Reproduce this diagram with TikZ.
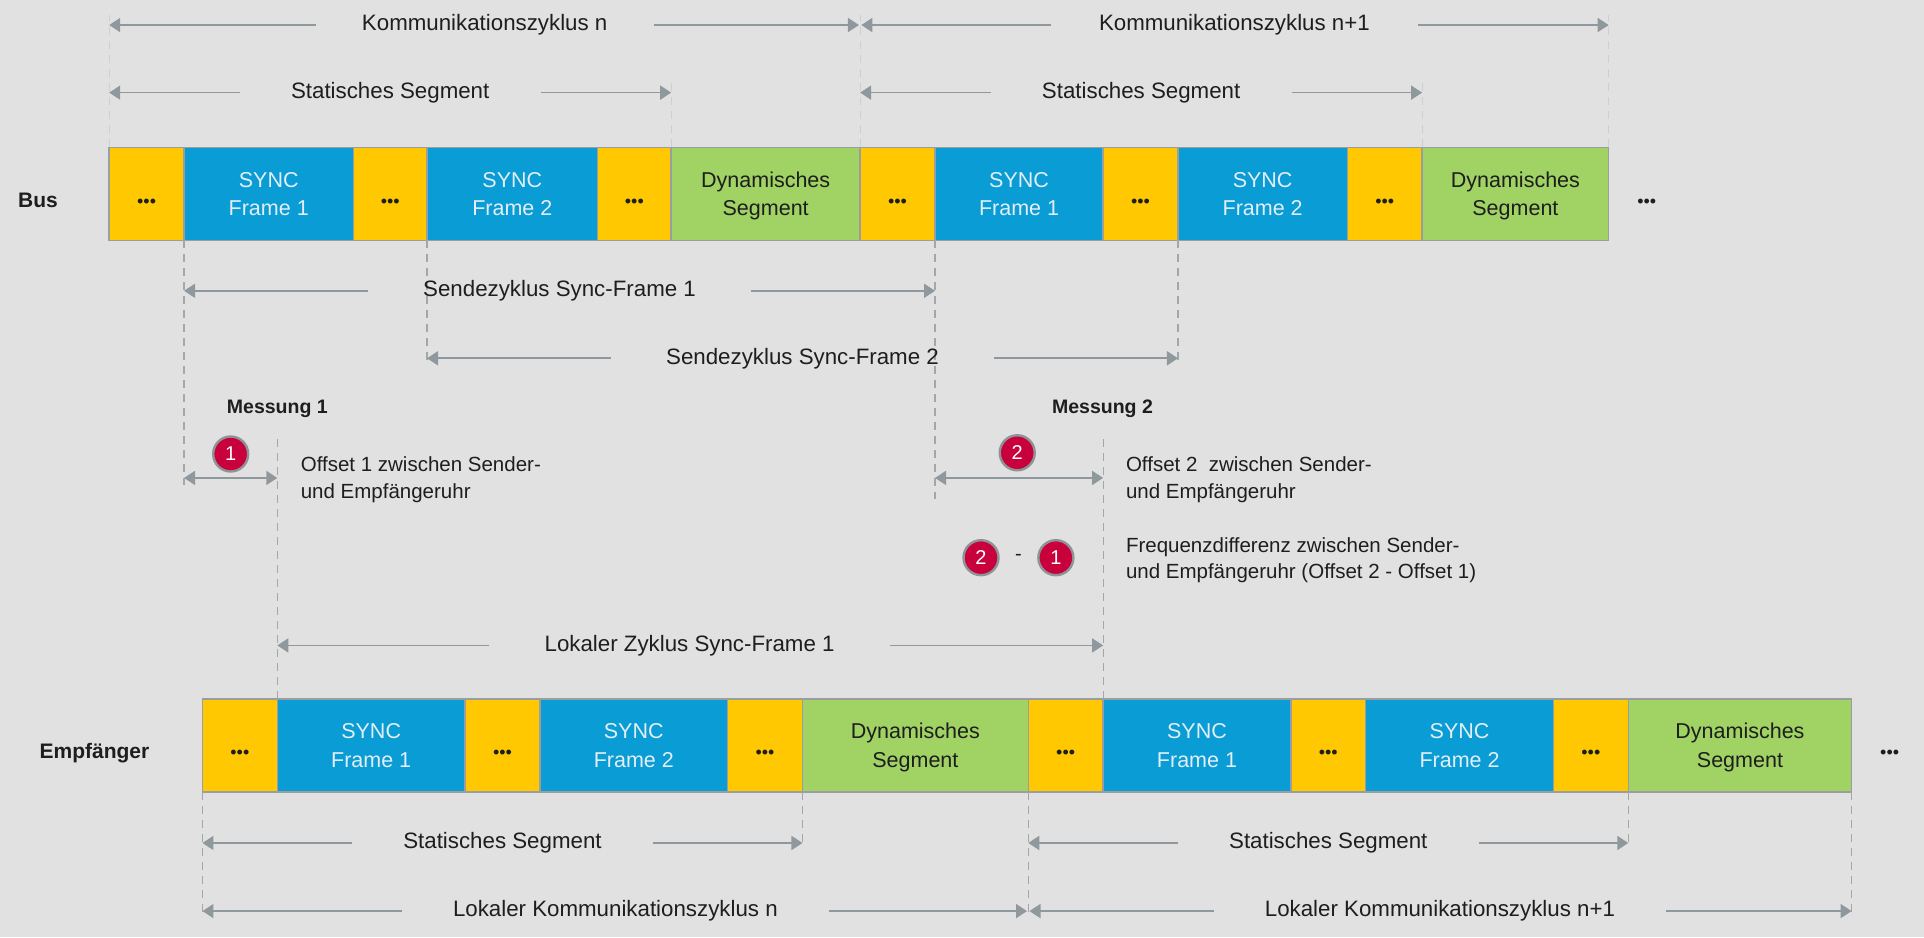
\documentclass[tikz,border=0pt]{standalone}
\usepackage{fontspec}
\setmainfont{Liberation Sans}
\usetikzlibrary{arrows.meta}
\definecolor{bgc}{HTML}{E1E1E1}
\definecolor{fyellow}{HTML}{FFC800}
\definecolor{fblue}{HTML}{0A9CD4}
\definecolor{fgreen}{HTML}{A0D264}
\definecolor{fborder}{HTML}{9A9EA1}
\definecolor{arrowgray}{HTML}{8F989C}
\definecolor{dashgray}{HTML}{A3A7A9}
\definecolor{faintgray}{HTML}{CDCFD0}
\definecolor{txt}{HTML}{1E1E1E}
\definecolor{bluetxt}{HTML}{E3EEF6}
\definecolor{badgered}{HTML}{C8003C}
\definecolor{badgeborder}{HTML}{8E9396}
\newcommand\seg[6]{%
  \node[segbox,#5,minimum width={(#3-#2)*1.22704pt}] (#1) at ({(#2+#3)/2},#4) {#6};}
\tikzset{
  segbox/.style={draw=fborder, line width=1.5pt, inner sep=0pt, outer sep=0pt,
    minimum height=93pt, align=center, font=\fontsize{21.5}{28.5}\selectfont},
  dotbox/.style={fill=fyellow, text=txt, font=\fontsize{18}{20}\selectfont},
  syncbox/.style={fill=fblue, text=bluetxt},
  dynbox/.style={fill=fgreen, text=txt},
  dimlabel/.style={font=\fontsize{22.3}{26}\selectfont, text=txt, inner xsep=51pt, inner ysep=2pt},
  dimarrow/.style={draw=arrowgray, line width=1.7pt, -{Triangle[length=11pt,width=14pt]}},
  dimboth/.style={draw=arrowgray, line width=1.7pt, {Triangle[length=11pt,width=14pt]}-{Triangle[length=11pt,width=14pt]}},
  extline/.style={draw=dashgray, line width=1.2pt, dash pattern=on 8pt off 6pt},
  faintline/.style={draw=faintgray, line width=1.2pt, dash pattern=on 8pt off 6pt},
  rowlabel/.style={font=\fontsize{21}{25}\selectfont\bfseries, text=txt, anchor=base},
  measlabel/.style={font=\fontsize{19.5}{23}\selectfont\bfseries, text=txt},
  note/.style={font=\fontsize{20.5}{26.4}\selectfont, text=txt, align=left, anchor=west, inner sep=0pt},
  badge/.style={circle, fill=badgered, draw=badgeborder, line width=2.4pt, minimum size=35pt,
    inner sep=0pt, text=white, font=\fontsize{20}{20}\selectfont},
  moredots/.style={font=\fontsize{18}{20}\selectfont, text=txt, inner sep=0pt}
}
\newcommand\dd{\raisebox{-13.5pt}[0pt][0pt]{\char"2022\char"2022\char"2022}}
\newcommand\nodepth[1]{\raisebox{0pt}[\height][0pt]{#1}}
\begin{document}
\begin{tikzpicture}[x=1.22704pt,y=-1.22704pt]
\fill[bgc] (0,0) rectangle (1568,764);
\useasboundingbox (0,0) rectangle (1568,764);

% ---------- Bus row ----------
\node[rowlabel] (buslbl) at (31,169) {Bus};
\seg{b1}{89}{150}{158}{dotbox}{\dd}
\seg{b2}{150}{288}{158}{syncbox}{SYNC\\Frame 1}
\seg{b3}{288}{348}{158}{dotbox}{\dd}
\seg{b4}{348}{487}{158}{syncbox}{SYNC\\Frame 2}
\seg{b5}{487}{547}{158}{dotbox}{\dd}
\seg{b6}{547}{701}{158}{dynbox}{Dynamisches\\\nodepth{Segment}}
\seg{b7}{701}{762}{158}{dotbox}{\dd}
\seg{b8}{762}{899}{158}{syncbox}{SYNC\\Frame 1}
\seg{b9}{899}{960}{158}{dotbox}{\dd}
\seg{b10}{960}{1098}{158}{syncbox}{SYNC\\Frame 2}
\seg{b11}{1098}{1159}{158}{dotbox}{\dd}
\seg{b12}{1159}{1311}{158}{dynbox}{Dynamisches\\\nodepth{Segment}}
\node[moredots] (busmore) at (1342,158) {\dd};

% ---------- Empfaenger row ----------
\node[rowlabel] (emplbl) at (77,618) {Empfänger};
\seg{e1}{165}{226}{607.5}{dotbox}{\dd}
\seg{e2}{226}{379}{607.5}{syncbox}{SYNC\\Frame 1}
\seg{e3}{379}{440}{607.5}{dotbox}{\dd}
\seg{e4}{440}{593}{607.5}{syncbox}{SYNC\\Frame 2}
\seg{e5}{593}{654}{607.5}{dotbox}{\dd}
\seg{e6}{654}{838}{607.5}{dynbox}{Dynamisches\\\nodepth{Segment}}
\seg{e7}{838}{899}{607.5}{dotbox}{\dd}
\seg{e8}{899}{1052}{607.5}{syncbox}{SYNC\\Frame 1}
\seg{e9}{1052}{1113}{607.5}{dotbox}{\dd}
\seg{e10}{1113}{1266}{607.5}{syncbox}{SYNC\\Frame 2}
\seg{e11}{1266}{1327}{607.5}{dotbox}{\dd}
\seg{e12}{1327}{1509}{607.5}{dynbox}{Dynamisches\\\nodepth{Segment}}
\node[moredots] (empmore) at (1540,607.5) {\dd};

% ---------- extension lines ----------
\coordinate (t1) at (89,12);   \draw[faintline] (b1.north west) -- (t1);
\coordinate (t2) at (547,66);  \draw[faintline] (b6.north west) -- (t2);
\coordinate (t3) at (701,12);  \draw[faintline] (b7.north west) -- (t3);
\coordinate (t4) at (1159,66); \draw[faintline] (b12.north west) -- (t4);
\coordinate (t5) at (1311,12); \draw[faintline] (b12.north east) -- (t5);

\coordinate (u1) at (150,395); \draw[extline] (b2.south west) -- (u1);
\coordinate (u2) at (348,296); \draw[extline] (b4.south west) -- (u2);
\coordinate (u3) at (762,407); \draw[extline] (b8.south west) -- (u3);
\coordinate (u4) at (960,296); \draw[extline] (b10.south west) -- (u4);

\coordinate (m1top) at (226,358); \draw[extline] (m1top) -- (e2.north west);
\coordinate (m2top) at (899,358); \draw[extline] (m2top) -- (e8.north west);

\coordinate (d1) at (165,748);  \draw[extline] (e1.south west) -- (d1);
\coordinate (d2) at (654,690);  \draw[extline] (e6.south west) -- (d2);
\coordinate (d3) at (838,748);  \draw[extline] (e7.south west) -- (d3);
\coordinate (d4) at (1327,690); \draw[extline] (e12.south west) -- (d4);
\coordinate (d5) at (1509,748); \draw[extline] (e12.south east) -- (d5);

% ---------- dimension arrows, top ----------
\node[dimlabel, inner xsep=46pt] (k1) at (395,20.4) {Kommunikationszyklus n};
\coordinate (k1a) at (89,20.4); \coordinate (k1b) at (700,20.4);
\draw[dimarrow] (k1) -- (k1a); \draw[dimarrow] (k1) -- (k1b);

\node[dimlabel, inner xsep=48pt] (k2) at (1006,20.4) {Kommunikationszyklus n+1};
\coordinate (k2a) at (702,20.4); \coordinate (k2b) at (1311,20.4);
\draw[dimarrow] (k2) -- (k2a); \draw[dimarrow] (k2) -- (k2b);

\node[dimlabel] (s1) at (318,75.5) {Statisches Segment};
\coordinate (s1a) at (89,75.5); \coordinate (s1b) at (547,75.5);
\draw[dimarrow] (s1) -- (s1a); \draw[dimarrow] (s1) -- (s1b);

\node[dimlabel] (s2) at (930,75.5) {Statisches Segment};
\coordinate (s2a) at (701,75.5); \coordinate (s2b) at (1159,75.5);
\draw[dimarrow] (s2) -- (s2a); \draw[dimarrow] (s2) -- (s2b);

% ---------- send cycles ----------
\node[dimlabel, inner xsep=55pt] (sz1) at (456,237) {Sendezyklus Sync-Frame 1};
\coordinate (sz1a) at (150,237); \coordinate (sz1b) at (762,237);
\draw[dimarrow] (sz1) -- (sz1a); \draw[dimarrow] (sz1) -- (sz1b);

\node[dimlabel, inner xsep=55pt] (sz2) at (654,292) {Sendezyklus Sync-Frame 2};
\coordinate (sz2a) at (348,292); \coordinate (sz2b) at (960,292);
\draw[dimarrow] (sz2) -- (sz2a); \draw[dimarrow] (sz2) -- (sz2b);

% ---------- measurements ----------
\node[measlabel] (ms1) at (226,333.5) {Messung 1};
\node[measlabel] (ms2) at (898.5,333.5) {Messung 2};

\node[badge] (c1) at (188,370) {1};
\coordinate (m1a) at (150,389.5); \coordinate (m1b) at (226,389.5);
\draw[dimboth] (m1a) -- (m1b);
\node[note] (o1) at (245,391) {Offset 1 zwischen Sender-\\und Empfängeruhr};

\node[badge] (c2) at (829,369) {2};
\coordinate (m2a) at (762,389.5); \coordinate (m2b) at (899,389.5);
\draw[dimboth] (m2a) -- (m2b);
\node[note] (o2) at (917.5,391) {Offset 2\ \ zwischen Sender-\\und Empfängeruhr};

\node[badge] (c2b) at (799.5,454.5) {2};
\node[font=\fontsize{20}{20}\selectfont, text=txt] (minus) at (830,454.5) {-};
\node[badge] (c1b) at (860.5,454.5) {1};
\node[note] (fd) at (917.5,456.5) {Frequenzdifferenz zwischen Sender-\\und Empfängeruhr (Offset 2 - Offset 1)};

\node[dimlabel, inner xsep=55pt] (lz) at (562,526) {Lokaler Zyklus Sync-Frame 1};
\coordinate (lza) at (226,526); \coordinate (lzb) at (899,526);
\draw[dimarrow] (lz) -- (lza); \draw[dimarrow] (lz) -- (lzb);

% ---------- bottom ----------
\node[dimlabel] (s3) at (409.5,687) {Statisches Segment};
\coordinate (s3a) at (165,687); \coordinate (s3b) at (654,687);
\draw[dimarrow] (s3) -- (s3a); \draw[dimarrow] (s3) -- (s3b);

\node[dimlabel] (s4) at (1082.5,687) {Statisches Segment};
\coordinate (s4a) at (838,687); \coordinate (s4b) at (1327,687);
\draw[dimarrow] (s4) -- (s4a); \draw[dimarrow] (s4) -- (s4b);

\node[dimlabel] (lk1) at (501.5,742.5) {Lokaler Kommunikationszyklus n};
\coordinate (lk1a) at (165,742.5); \coordinate (lk1b) at (837,742.5);
\draw[dimarrow] (lk1) -- (lk1a); \draw[dimarrow] (lk1) -- (lk1b);

\node[dimlabel] (lk2) at (1173.5,742.5) {Lokaler Kommunikationszyklus n+1};
\coordinate (lk2a) at (839,742.5); \coordinate (lk2b) at (1509,742.5);
\draw[dimarrow] (lk2) -- (lk2a); \draw[dimarrow] (lk2) -- (lk2b);
\end{tikzpicture}
\end{document}
